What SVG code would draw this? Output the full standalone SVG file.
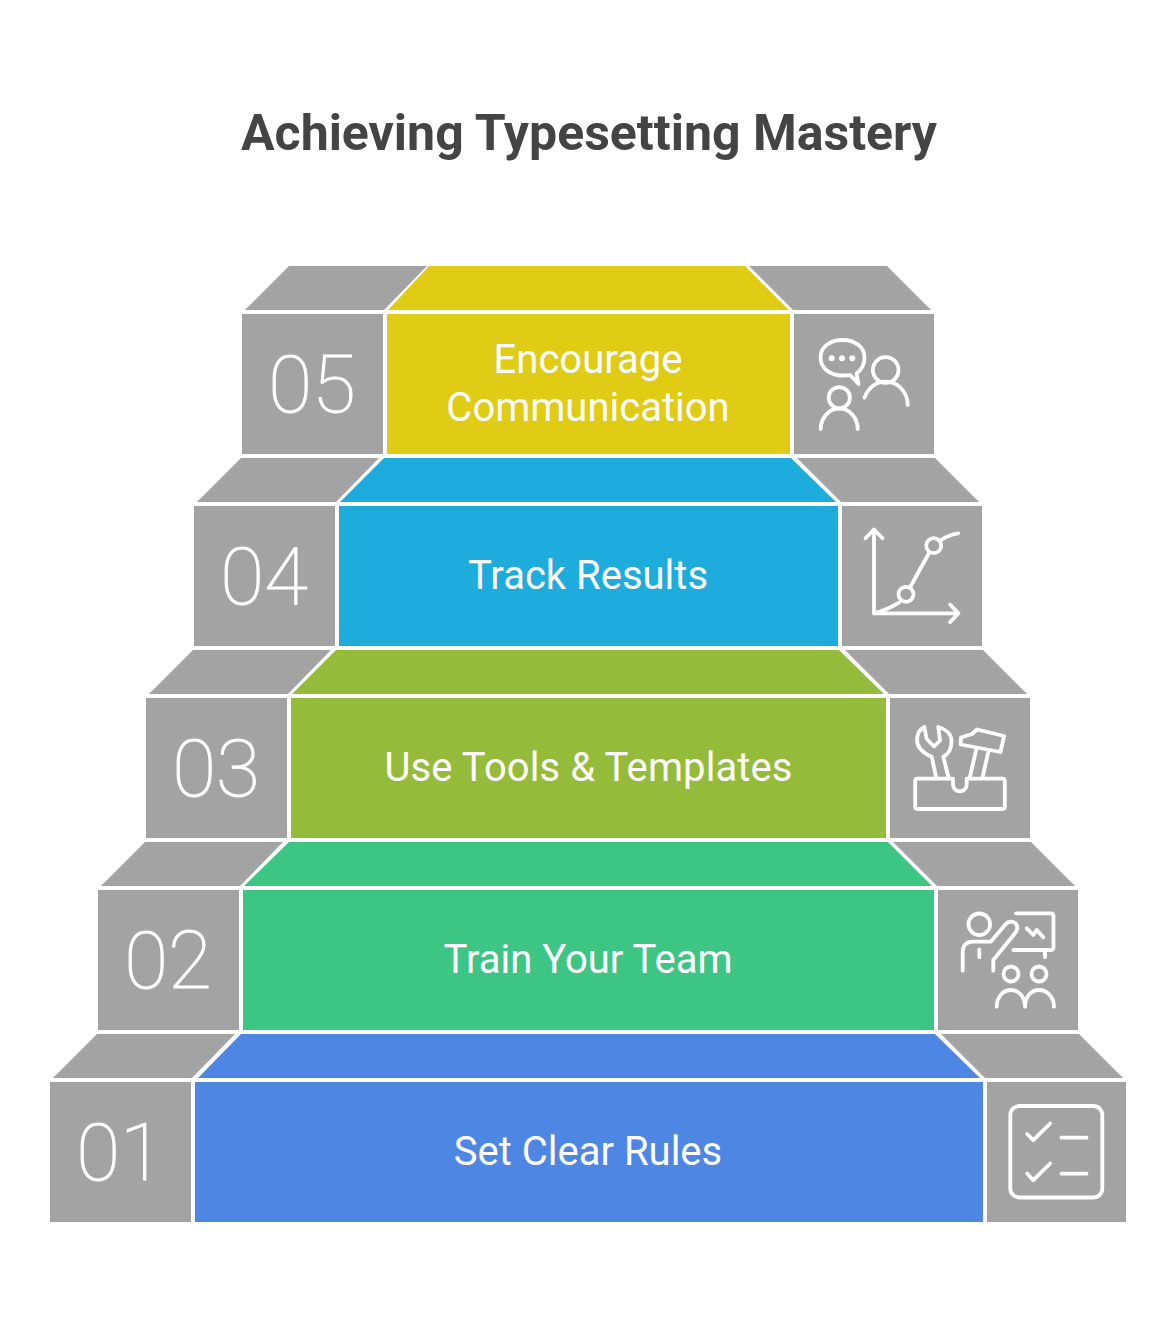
<svg xmlns="http://www.w3.org/2000/svg" width="1176" height="1320" viewBox="0 0 1176 1320">
<style>
text{font-family:Roboto,"Liberation Sans",sans-serif;text-anchor:middle}
.t{font-size:50px;font-weight:700;fill:#444}
.l{font-size:40px;fill:#fff}
.n{font-size:80px;font-weight:100;fill:#fff;stroke:#fff;stroke-width:1}
.g{fill:#a3a3a3}
.i{fill:none;stroke:#fff;stroke-width:3.800;stroke-linecap:round;stroke-linejoin:round}
.d{fill:#fff}
</style>
<rect width="1176" height="1320" fill="#fff"/>
<text class="t" x="589" y="150">Achieving Typesetting Mastery</text>
<g id="step-05">
<polygon class="g" points="289,266 427,266 384,310 245,310"/>
<polygon class="g" points="749,266 887,266 931,310 793,310"/>
<polygon fill="#e0cb15" points="429,266 745,266 789,310 388,310"/>
<rect class="g" x="242" y="314" width="141" height="140"/>
<rect fill="#e0cb15" x="387" y="314" width="403" height="140"/>
<rect class="g" x="794" y="314" width="140" height="140"/>
<text class="n" x="312" y="412">05</text>
<text class="l" x="588" y="373">Encourage</text>
<text class="l" x="588" y="421">Communication</text>
<g class="i">
<path d="M858.500 384 L856.500 373.500 C862 369.500 864.500 363 864.500 357.500 C864.500 347 855 340 842.500 340 C830 340 820.500 347 820.500 357.500 C820.500 368 830 375.500 842.500 375.500 C845 375.500 848 375.500 850 375 Z"/>
<circle cx="885.700" cy="370" r="12.800"/>
<path d="M864.500 397.500 C869 387 877 381.700 885.700 381.700 C898 381.700 907.700 392 907.700 405"/>
<circle cx="839.300" cy="397.700" r="10.600"/>
<path d="M820.700 429 C820.700 418 829 408.500 839.300 408.500 C849.500 408.500 857.700 418 857.700 429"/>
</g>
<circle class="d" cx="831.700" cy="358.300" r="3"/><circle class="d" cx="842" cy="358.300" r="3"/><circle class="d" cx="852.300" cy="358.300" r="3"/>
</g>
<g id="step-04">
<polygon class="g" points="241,458 379,458 336,502 197,502"/>
<polygon class="g" points="797,458 935,458 979,502 841,502"/>
<polygon fill="#1dacdc" points="384,458 791,458 836,502 340,502"/>
<rect class="g" x="194" y="506" width="141" height="140"/>
<rect fill="#1dacdc" x="339" y="506" width="499" height="140"/>
<rect class="g" x="842" y="506" width="140" height="140"/>
<text class="n" x="264" y="604">04</text>
<text class="l" x="588" y="589">Track Results</text>
<g class="i">
<path d="M874 530 V613.300 H958.300 M865.500 538.300 L874 529.500 L882.500 538.300 M950 604.500 L958.500 613.300 L950 622.200"/>
<circle cx="906" cy="594.300" r="7.500"/><circle cx="933.700" cy="545.700" r="7.500"/>
<path d="M874 613.300 Q887 610 899 602.700 M910 587.500 L929 553 M941 540 Q949 534.500 958.300 533.300"/>
</g>
</g>
<g id="step-03">
<polygon class="g" points="193,650 331,650 288,694 149,694"/>
<polygon class="g" points="845,650 983,650 1027,694 889,694"/>
<polygon fill="#94bc3a" points="336,650 839,650 884,694 292,694"/>
<rect class="g" x="146" y="698" width="141" height="140"/>
<rect fill="#94bc3a" x="291" y="698" width="595" height="140"/>
<rect class="g" x="890" y="698" width="140" height="140"/>
<text class="n" x="216" y="796">03</text>
<text class="l" x="588.500" y="781" textLength="408">Use Tools &amp; Templates</text>
<g class="i">
<path d="M953 778.600 H917.500 Q915.200 778.600 915.200 781 V806.600 Q915.200 809 917.500 809 H1002.500 Q1004.800 809 1004.800 806.600 V781 Q1004.800 778.600 1002.500 778.600 H966.700 V784.500 A6.800 6.800 0 0 1 953 784.500 Z"/>
<path d="M936 776.700 L931.700 756.700 C923 753 917 747 917 740 C917 734 919.500 729.500 924.300 727 L926.700 739 L934 746.500 L940 740.500 L938.300 727 C946 729 951.500 734 951.500 741 C951.500 748.500 948.500 754 943.300 756.700 L948.300 776.700"/>
<path d="M970 776.700 L976 750.500 M982.700 776.700 L988.300 752"/>
<path d="M960.500 744.500 L961 737.500 L972 734 L977 729.500 L1004 736 L1000.500 752 Z"/>
</g>
</g>
<g id="step-02">
<polygon class="g" points="145,842 283,842 240,886 101,886"/>
<polygon class="g" points="893,842 1031,842 1075,886 937,886"/>
<polygon fill="#3dc584" points="289,842 888,842 932,886 244,886"/>
<rect class="g" x="98" y="890" width="141" height="140"/>
<rect fill="#3dc584" x="243" y="890" width="691" height="140"/>
<rect class="g" x="938" y="890" width="140" height="140"/>
<text class="n" x="168" y="988">02</text>
<text class="l" x="588" y="973">Train Your Team</text>
<g class="i">
<circle cx="979.300" cy="924.300" r="10.800"/>
<path d="M962.700 970.700 V951.700 Q963 941.700 973.300 941.700 H990.700 L1005 925 C1009 919.500 1017.500 921 1017.300 928.300 Q1017 931 1014 934.500 L993.300 960 V970.700 M979.300 949.300 V957.300"/>
<path d="M1016 913.300 H1051 Q1053.500 913.300 1053.500 916.300 V947 Q1053.500 950 1051 950 H1013.300 M1045 950 V957.300"/>
<path d="M1026.700 928.300 L1033.300 935 L1036.700 930 L1043.300 937.300"/>
<circle cx="1011" cy="974" r="7.500"/><circle cx="1039" cy="974" r="7.500"/>
<path d="M996.700 1006.700 C996.700 997 1003 990 1011 990 C1019 990 1025 997 1025 1006.700 C1025 997 1031 990 1039 990 C1047 990 1054 997 1054 1006.700"/>
</g>
</g>
<g id="step-01">
<polygon class="g" points="97,1034 235,1034 192,1078 53,1078"/>
<polygon class="g" points="941,1034 1079,1034 1123,1078 985,1078"/>
<polygon fill="#4e86e4" points="241,1034 935,1034 980,1078 198,1078"/>
<rect class="g" x="50" y="1082" width="141" height="140"/>
<rect fill="#4e86e4" x="195" y="1082" width="788" height="140"/>
<rect class="g" x="987" y="1082" width="139" height="140"/>
<text class="n" x="120" y="1180">01</text>
<text class="l" x="588" y="1165">Set Clear Rules</text>
<g class="i">
<rect x="1010.300" y="1106" width="92" height="91.500" rx="9"/>
<path d="M1027.200 1134 L1033.300 1140.200 L1050.200 1123.500 M1027.200 1173.500 L1033.300 1180.200 L1050.200 1163.500 M1061.500 1137.700 H1086.500 M1061.500 1173.700 H1086.500"/>
</g>
</g>
</svg>
